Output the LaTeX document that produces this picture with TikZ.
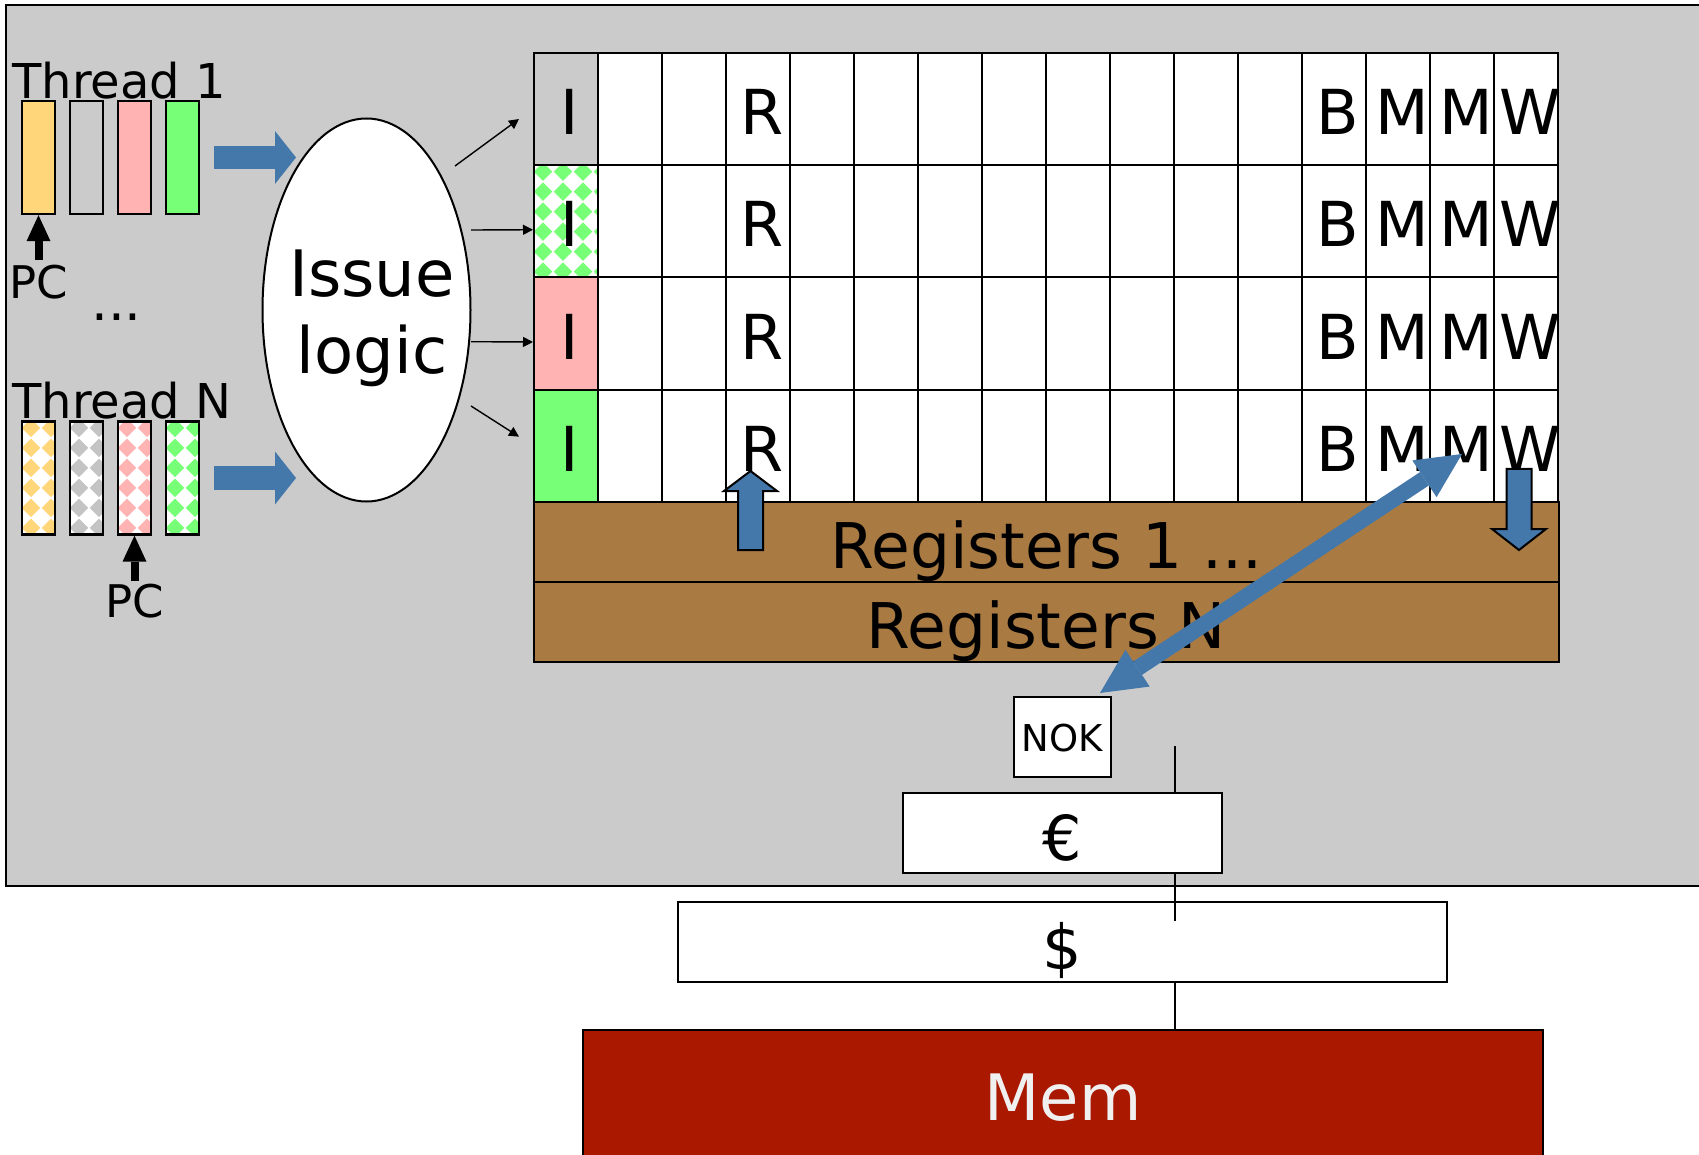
\documentclass[tikz,border=0pt]{standalone}
\usepackage{fontspec}
\setmainfont{DejaVu Sans}
\usetikzlibrary{shapes.geometric,arrows.meta,calc}

\definecolor{panelgrey}{RGB}{203,203,203}
\definecolor{instyellow}{RGB}{255,214,122}
\definecolor{instpink}{RGB}{255,179,179}
\definecolor{instgreen}{RGB}{119,255,119}
\definecolor{dotgrey}{RGB}{196,196,196}
\definecolor{flowblue}{RGB}{68,120,170}
\definecolor{regbrown}{RGB}{169,122,66}
\definecolor{memred}{RGB}{170,24,0}
\definecolor{memtext}{RGB}{240,240,240}

\tikzset{
  panel/.style={fill=panelgrey, draw=black, line width=1.2pt},
  instr/.style={draw, line width=1.2pt, minimum width=16.5pt, minimum height=56.5pt, inner sep=0pt},
  diamonds/.style={fill=white, path picture={
      \foreach \i in {0,...,3} \foreach \j in {0,...,6}
        \fill[#1] ($(path picture bounding box.north west)+({\i*10pt+4.5pt},{-\j*10pt-3.2pt})$)
          +(-4.6pt,0pt) -- +(0pt,4.6pt) -- +(4.6pt,0pt) -- +(0pt,-4.6pt) -- cycle;
      }},
  cell/.style={draw, line width=1pt, fill=white, minimum width=32pt, minimum height=56.125pt, inner sep=0pt},
  stage/.style={font=\fontsize{31}{37}\selectfont, text height=25.5pt, text depth=0pt, inner sep=0pt, xshift=2pt},
  regbox/.style={draw, line width=1pt, fill=regbrown, minimum width=512.5pt, minimum height=40pt, inner sep=0pt,
    font=\fontsize{31.5}{37}\selectfont, text height=26pt, text depth=0pt},
  cachebox/.style={draw, line width=1pt, fill=white, minimum height=40pt, inner sep=0pt,
    font=\fontsize{31}{37}\selectfont, text height=27pt, text depth=0pt},
  membox/.style={draw, line width=1pt, fill=memred, text=memtext, minimum width=480pt, minimum height=67pt, inner sep=0pt,
    font=\fontsize{32}{38}\selectfont, text height=23pt, text depth=0pt},
  issuebox/.style={ellipse, draw, line width=1pt, fill=white, minimum width=104pt, minimum height=191.5pt, inner sep=0pt},
  bigtxt/.style={font=\fontsize{32}{38.5}\selectfont, inner sep=0pt},
  thrlbl/.style={anchor=base west, inner sep=0pt, font=\fontsize{24}{28}\selectfont},
  pclbl/.style={anchor=base, inner sep=0pt, font=\fontsize{22.5}{27}\selectfont},
  pcarrow/.style={line width=4pt, -{Triangle[length=13pt,width=12pt,line width=0pt]}},
  feedarrow/.style={draw=flowblue, line width=11.5pt, -{Triangle[length=10.5pt,width=26.5pt,line width=0pt]}},
  issuearrow/.style={line width=0.7pt, -{Triangle[length=5pt,width=5pt]}},
  regarrow/.style={draw=black, fill=flowblue, line width=1pt, line join=miter},
  memarrow/.style={draw=flowblue, line width=8pt,
    {Triangle[length=22.5pt,width=22pt,line width=0pt]}-{Triangle[length=22.5pt,width=22pt,line width=0pt]}},
  bus/.style={line width=0.75pt}
}

\begin{document}
\begin{tikzpicture}[x=0.5pt,y=-0.5pt]
  \clip (0,0) rectangle (1699,1155);
  \draw[panel] (6,5) rectangle (1740,886);

  % threads
  \foreach \k/\col in {0/instyellow,1/panelgrey,2/instpink,3/instgreen}
    \node[instr, fill=\col] (ta\k) at ({38.5+48*\k},157.5) {};
  \foreach \k/\col in {0/instyellow,1/dotgrey,2/instpink,3/instgreen}
    \node[instr, diamonds=\col] (tn\k) at ({38.5+48*\k},478) {};

  \node[thrlbl] (thr1) at (12,99) {Thread 1};
  \node[thrlbl] (thrN) at (12,419) {Thread N};
  \node[pclbl] (pc1) at (38.5,299) {PC};
  \node[pclbl] (pcN) at (134.5,617) {PC};
  \node[anchor=base, inner sep=0pt, font=\fontsize{26.5}{30}\selectfont] (dots) at (116.5,321) {...};

  \draw[pcarrow] ([yshift=2.5pt]pc1.north) -- (ta0.south);
  \draw[pcarrow] ([yshift=1pt]pcN.north) -- (tn2.south);

  % pipeline
  \foreach \r in {1,...,4}
    \foreach \c in {1,...,15}
      \node[cell] (c-\r-\c) at ({566+64*\c},{109.1+112.25*(\r-1)}) {};
  \node[cell, fill=panelgrey] (c-1-0) at (566,109.1) {};
  \node[cell, diamonds=instgreen] (c-2-0) at (566,221.35) {};
  \node[cell, fill=instpink] (c-3-0) at (566,333.6) {};
  \node[cell, fill=instgreen] (c-4-0) at (566,445.85) {};

  \foreach \r in {1,...,4}
    \foreach \c/\s in {0/I,3/R,12/B,13/M,14/M,15/W}
      \node[stage] (s-\r-\c) at (c-\r-\c) {\s};

  \node[regbox] (reg1) at (1046.5,542) {Registers 1 ...};
  \node[regbox] (regN) at (1046.5,622) {Registers N};

  \draw[regarrow] (738,550) -- (738,491) -- (724,491) -- (750.5,471) -- (777,491) -- (763,491) -- (763,550) -- cycle;
  \draw[regarrow] (1506.5,469) -- (1506.5,529) -- (1492,529) -- (1519,550) -- (1546,529) -- (1531.5,529) -- (1531.5,469) -- cycle;

  % issue
  \node[issuebox] (issue) at (366.5,310) {};
  \node[bigtxt, align=center] (issuetxt) at (372,318.3) {Issue\\logic};

  \coordinate (f1s) at (214,157.5);
  \coordinate (f1e) at (296,157.5);
  \coordinate (fNs) at (214,478);
  \coordinate (fNe) at (296,478);
  \draw[feedarrow] (f1s) -- (f1e);
  \draw[feedarrow] (fNs) -- (fNe);

  \coordinate (ia1) at (455,166);
  \coordinate (ib1) at (519,119);
  \coordinate (ia2) at (471,230);
  \coordinate (ia3) at (471,341.7);
  \coordinate (ia4) at (471,406);
  \coordinate (ib4) at (519,436.7);
  \draw[issuearrow] (ia1) -- (ib1);
  \draw[issuearrow] (ia2) -- ([yshift=-4.2pt]c-2-0.west);
  \draw[issuearrow] (ia3) -- ([yshift=-4.2pt]c-3-0.west);
  \draw[issuearrow] (ia4) -- (ib4);

  % memory side
  \node[cachebox, minimum width=384.5pt] (dollar) at (1062.5,942) {\$};
  \coordinate (busTop) at (1175,746);
  \coordinate (busEnd) at (1175,921);
  \draw[bus] (busTop) -- (busEnd);
  \node[cachebox, minimum width=159.5pt] (euro) at (1062.5,833) {€};
  \node[cachebox, minimum width=48.5pt, font=\fontsize{18.5}{22}\selectfont, text height=14.7pt] (nok) at (1062.5,737) {NOK};
  \node[membox] (mem) at (1063,1097) {Mem};
  \draw[bus] (dollar.south -| busTop) -- (mem.north -| busTop);

  \coordinate (dmTip) at (1462,454);
  \coordinate (dmEnd) at (1100,693);
  \draw[memarrow] (dmEnd) -- (dmTip);
\end{tikzpicture}
\end{document}
